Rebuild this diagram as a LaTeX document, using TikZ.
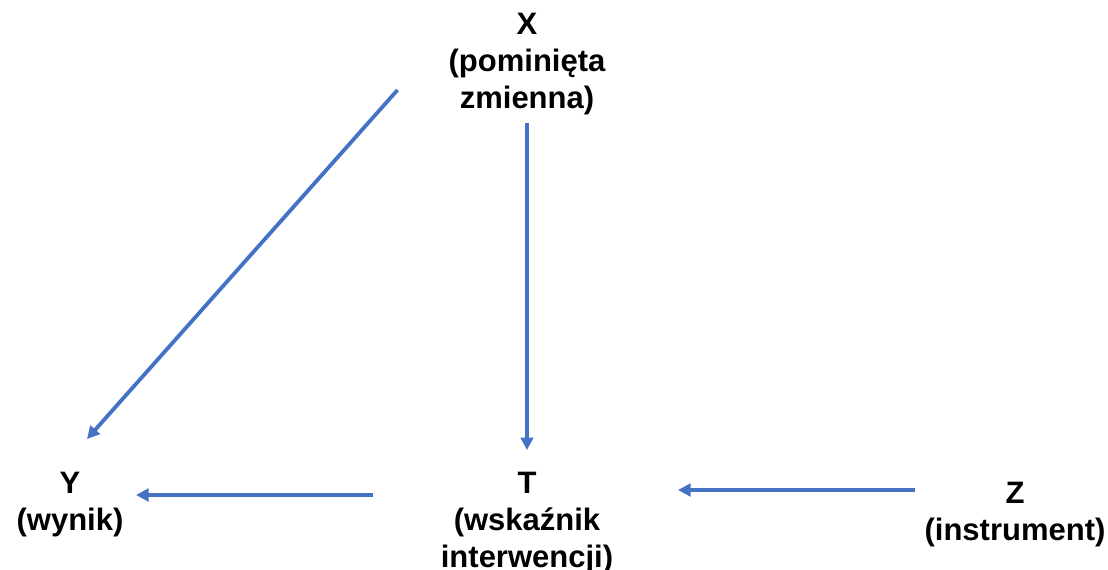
\documentclass[tikz,border=0pt]{standalone}
\usepackage{fontspec}
\setmainfont{Liberation Sans}
\usetikzlibrary{arrows.meta}
\definecolor{arrowblue}{HTML}{4472C4}
\begin{document}
\begin{tikzpicture}[x=1pt,y=-1pt,
  lbl/.style={font=\bfseries\fontsize{31}{37}\selectfont, align=center, inner sep=0pt, anchor=north},
  conn/.style={draw=arrowblue, line width=3.8pt, -{Triangle[length=12.5pt,width=12.5pt]}}]
\useasboundingbox (0,0) rectangle (1108,570);
\node[lbl] (X) at (527,13) {X\\(pominięta\\zmienna)};
\node[lbl] (Y) at (70,472) {Y\\(wynik)};
\node[lbl] (T) at (527,472) {T\\(wskaźnik\\interwencji)};
\node[lbl] (Z) at (1015,482) {Z\\(instrument)};
\coordinate (xy1) at (397.5,90);
\coordinate (xy2) at (87,439);
\coordinate (xt1) at (527,123);
\coordinate (xt2) at (527,450);
\coordinate (ty1) at (373,495);
\coordinate (ty2) at (136,495);
\coordinate (zt1) at (915,490);
\coordinate (zt2) at (678,490);
\draw[conn] (xy1) -- (xy2);
\draw[conn] (xt1) -- (xt2);
\draw[conn] (ty1) -- (ty2);
\draw[conn] (zt1) -- (zt2);
\end{tikzpicture}
\end{document}
